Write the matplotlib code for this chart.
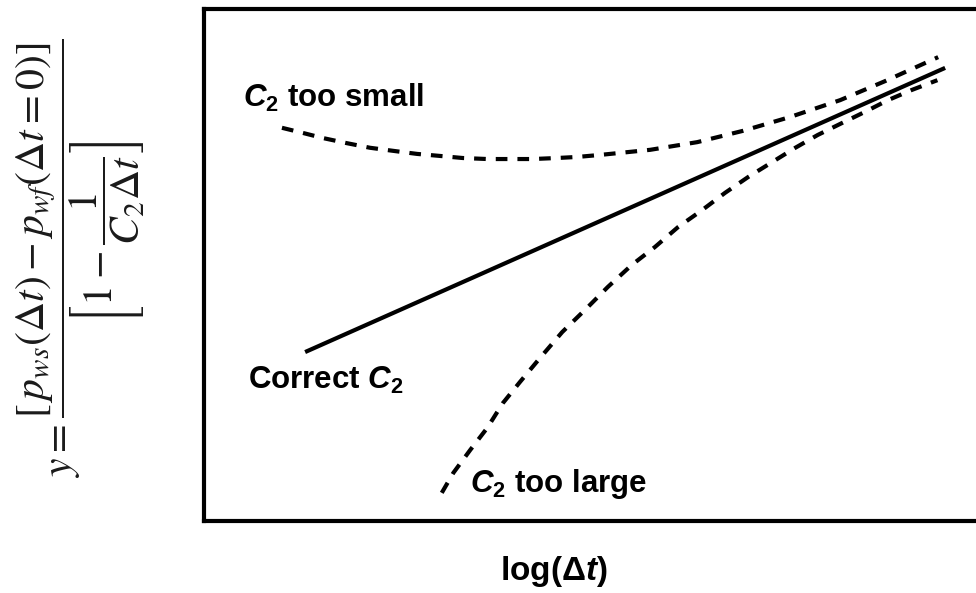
import matplotlib
matplotlib.use("Agg")
import matplotlib.pyplot as plt

plt.rcParams['mathtext.fontset'] = 'custom'
plt.rcParams['mathtext.rm'] = 'Liberation Sans:bold'
plt.rcParams['mathtext.it'] = 'Liberation Sans:bold:italic'
plt.rcParams['mathtext.bf'] = 'Liberation Sans:bold'

# Data (arbitrary units: log(dt) on x, y on y)
correct_x = [1.31, 9.60]
correct_y = [3.30, 8.85]

small_x = [1.01, 1.28, 1.54, 1.85, 2.15, 2.45, 2.76, 3.06, 3.35, 3.67, 3.96, 4.26, 4.57, 4.83,
           5.13, 5.78, 6.39, 6.98, 7.59, 8.24, 8.82, 9.51]
small_y = [7.68, 7.58, 7.48, 7.38, 7.29, 7.23, 7.17, 7.13, 7.09, 7.07, 7.07, 7.07, 7.09, 7.11,
           7.15, 7.25, 7.40, 7.62, 7.89, 8.22, 8.59, 9.06]

large_x = [3.08, 3.23, 3.45, 3.67, 3.87, 4.09, 4.35, 4.64, 4.96, 5.23, 5.54, 5.84, 6.14, 6.45,
           6.75, 7.05, 7.36, 7.66, 7.95, 8.26, 8.56, 8.86, 9.17, 9.50]
large_y = [0.55, 0.94, 1.39, 1.82, 2.30, 2.71, 3.18, 3.69, 4.16, 4.57, 5.00, 5.35, 5.74, 6.07,
           6.41, 6.72, 7.01, 7.29, 7.54, 7.77, 7.99, 8.22, 8.42, 8.61]

labels = [r'$C_2$ too small', r'Correct $C_2$', r'$C_2$ too large']
label_x = [0.50, 0.57, 3.45]
label_y = [8.09, 2.58, 0.57]

fig = plt.figure(figsize=(9.76, 5.93), dpi=100)
ax = fig.add_axes([0.209, 0.1214, 0.791, 0.8634])
ax.set_xlim(0, 10)
ax.set_ylim(0, 10)
ax.set_xticks([])
ax.set_yticks([])
for s in ['left', 'top', 'bottom']:
    ax.spines[s].set_linewidth(3)
ax.spines['right'].set_visible(False)

ax.plot(correct_x, correct_y, color='black', lw=3, solid_capstyle='butt')
ax.plot(small_x, small_y, color='black', lw=3, dashes=(2.8, 2.4), dash_capstyle='butt')
ax.plot(large_x, large_y, color='black', lw=3, dashes=(2.8, 2.4), dash_capstyle='butt')

for t, x, y in zip(labels, label_x, label_y):
    ax.text(x, y, t, fontsize=22.5, fontweight='bold', family='Liberation Sans',
            va='baseline', ha='left', math_fontfamily='custom')

fig.text(0.567, 1 - 580 / 593, r'log($\Delta$$t$)', fontsize=24, fontweight='bold',
         family='Liberation Sans', ha='center', va='baseline', math_fontfamily='custom')

ylab = (r'$y=\dfrac{[\,p_{ws}(\Delta t)-p_{wf}(\Delta t=0)]}'
        r'{\left[1-\dfrac{1}{C_2\Delta t}\right]}$')
fig.text(81 / 976, 1 - 258 / 593, ylab, fontsize=30, rotation=90, ha='center', va='center',
         math_fontfamily='stix', color='#1a1a1a')

fig.savefig('out.png', dpi=100)
